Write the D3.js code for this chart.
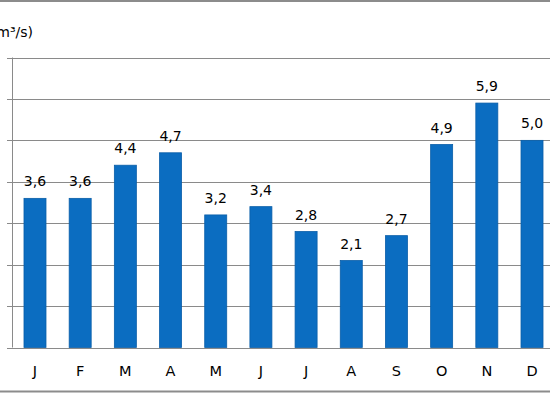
<!DOCTYPE html>
<html><head><meta charset="utf-8">
<script src="https://cdn.jsdelivr.net/npm/d3@7"></script>
<style>html,body{margin:0;padding:0;background:#fff;overflow:hidden}</style>
</head><body>
<svg id="c" width="550" height="393"></svg>
<script>
const months = ["J","F","M","A","M","J","J","A","S","O","N","D"];
const values = [3.6,3.6,4.4,4.7,3.2,3.4,2.8,2.1,2.7,4.9,5.9,5.0];
const valueLabels = ["3,6","3,6","4,4","4,7","3,2","3,4","2,8","2,1","2,7","4,9","5,9","5,0"];
const yTicks = [0,1,2,3,4,5,6,7];
const yTitle = "(m³/s)";

const svg = d3.select("#c");
const font = "'DejaVu Sans', sans-serif";
const x = d3.scaleBand().domain(d3.range(months.length)).range([12.4, 554.6]).paddingInner(0.513).paddingOuter(0.2565);
const y = d3.scaleLinear().domain([0,7]).range([347.5, 57.5]);

// frame lines
svg.append("line").attr("x1",0).attr("x2",550).attr("y1",1).attr("y2",1).attr("stroke","#8c8c8c").attr("stroke-width",2);
svg.append("line").attr("x1",0).attr("x2",550).attr("y1",391.5).attr("y2",391.5).attr("stroke","#8c8c8c").attr("stroke-width",2);

// gridlines
svg.append("g").selectAll("line").data(yTicks).join("line")
  .attr("x1",7).attr("x2",550).attr("y1",d=>Math.round(y(d))+0.5).attr("y2",d=>Math.round(y(d))+0.5)
  .attr("stroke","#8a8a8a").attr("stroke-width",1);
// y axis line
svg.append("line").attr("x1",12.5).attr("x2",12.5).attr("y1",y(7)).attr("y2",y(0)).attr("stroke","#8a8a8a");

// y title (cut at left edge as in the reference)
svg.append("text").attr("x",33).attr("y",37).attr("text-anchor","end")
  .attr("font-family",font).attr("font-size",14).attr("fill","#000").text(yTitle);

// bars
svg.append("g").selectAll("rect").data(values).join("rect")
  .attr("x",(d,i)=>x(i)).attr("width",x.bandwidth())
  .attr("y",d=>y(d)).attr("height",d=>y(0)-y(d))
  .attr("fill","#0b6dc1").attr("stroke","#0a5ea8").attr("stroke-width",0.8);

// value labels
svg.append("g").selectAll("text").data(values).join("text")
  .attr("x",(d,i)=>x(i)+x.bandwidth()/2).attr("y",d=>y(d)-12)
  .attr("text-anchor","middle").attr("font-family",font).attr("font-size",14).attr("fill","#000")
  .text((d,i)=>valueLabels[i]);

// category labels
svg.append("g").selectAll("text").data(months).join("text")
  .attr("x",(d,i)=>x(i)+x.bandwidth()/2).attr("y",376)
  .attr("text-anchor","middle").attr("font-family",font).attr("font-size",14.5).attr("fill","#000")
  .text(d=>d);
</script>
</body></html>
